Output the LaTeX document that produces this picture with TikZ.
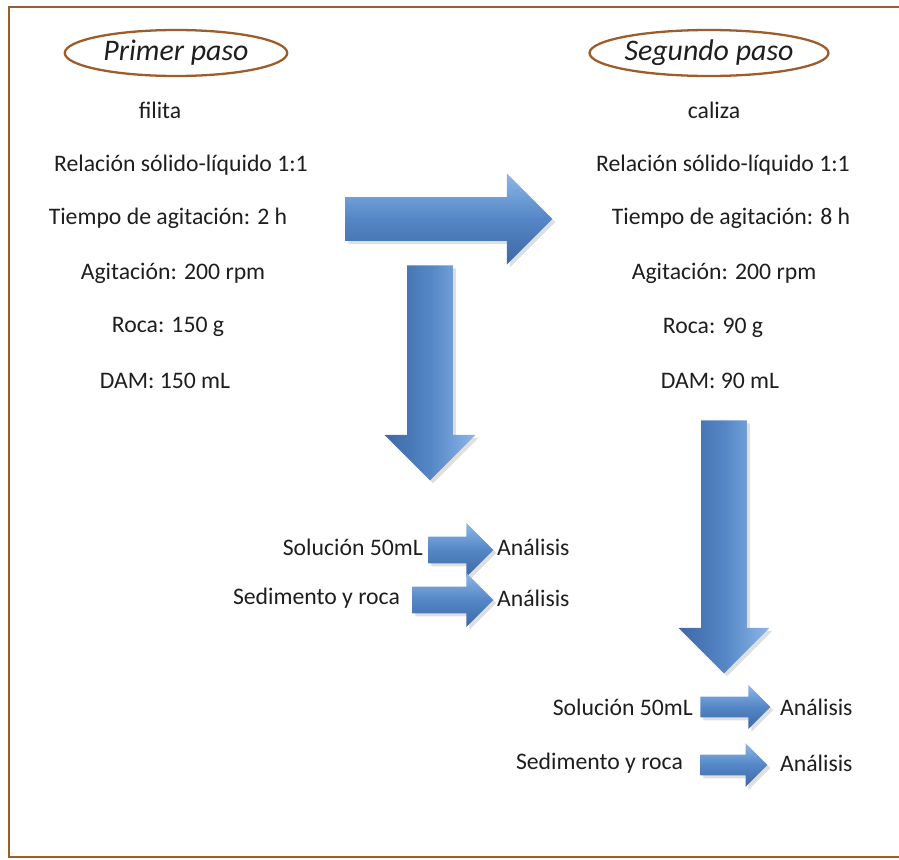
\documentclass[tikz,border=0pt]{standalone}
\usepackage{fontspec}
\setmainfont{Carlito}
\usetikzlibrary{shapes,arrows,positioning,shadows}

\definecolor{marron}{RGB}{158,92,42}
\definecolor{azul}{RGB}{84,134,198}
\definecolor{azulclaro}{RGB}{140,183,232}
\definecolor{azuloscuro}{RGB}{62,104,165}
\definecolor{texto}{RGB}{30,30,30}

\begin{document}
\begin{tikzpicture}[x=0.02cm,y=-0.02cm,
	txt/.style={text=texto,font=\fontsize{13.5}{15}\selectfont,inner sep=1pt},
	paso/.style={ellipse,draw=marron,line width=1.3pt,inner sep=0pt,minimum width=4.45cm,
		minimum height=0.92cm,text=texto,font=\fontsize{17}{20}\selectfont\itshape},
	flecha/.style={single arrow,single arrow tip angle=90,inner xsep=0pt,draw=none,
		top color=azulclaro,bottom color=azuloscuro,middle color=azul,
		drop shadow={opacity=0.25,shadow xshift=0.06cm,shadow yshift=-0.06cm}},
	abajo/.style={anchor=tail,rotate=-90,left color=azuloscuro,right color=azulclaro,middle color=azul},
	grande/.style={flecha,inner ysep=0.45cm,single arrow head extend=0.45cm},
	chica/.style={flecha,inner ysep=0.26cm,single arrow head extend=0.27cm},
	mini/.style={flecha,inner ysep=0.2cm,single arrow head extend=0.23cm}]
	\useasboundingbox (0,0) rectangle (899,859);
	% marco
	\draw[marron,line width=1.6pt] (899,7) -- (9,7) -- (9,857) -- (899,857);

	% Primer paso
	\node[paso] (paso1) at (176,53) {Primer paso};
	\node[txt] (filita) at (160,110) {filita};
	\node[txt] (rel1) at (181,165) {Relación sólido-líquido 1:1};
	\node[txt] (tiem1) at (168,218) {Tiempo de agitación: 2 h};
	\node[txt] (agit1) at (173,273) {Agitación: 200 rpm};
	\node[txt] (roca1) at (168,327) {Roca: 150 g};
	\node[txt] (dam1) at (165,381) {DAM: 150 mL};

	% Segundo paso
	\node[paso] (paso2) at (709,53) {Segundo paso};
	\node[txt] (caliza) at (714,110) {caliza};
	\node[txt] (rel2) at (723,165) {Relación sólido-líquido 1:1};
	\node[txt] (tiem2) at (731,218) {Tiempo de agitación: 8 h};
	\node[txt] (agit2) at (724,273) {Agitación: 200 rpm};
	\node[txt] (roca2) at (713,328) {Roca: 90 g};
	\node[txt] (dam2) at (720,381) {DAM: 90 mL};

	% flechas grandes
	\node[grande,inner ysep=0.43cm,single arrow head extend=0.47cm,minimum height=4.14cm,anchor=tail] (fpaso) at (345,219) {};
	\node[grande,abajo,minimum height=4.3cm] (fbaja1) at (430,265) {};
	\node[grande,abajo,minimum height=5.06cm] (fbaja2) at (724,420) {};

	% resultados primer paso
	\node[chica,minimum height=1.3cm,anchor=tail] (fsol1) at (428,550) {};
	\node[chica,minimum height=1.62cm,anchor=tail] (fsed1) at (412,600) {};
	\node[txt,anchor=east] (sol1) at (425,547) {Solución 50mL};
	\node[txt,anchor=east] (sed1) at (402,598) {Sedimento y roca};
	\node[txt,anchor=west] (an1) at (495,547) {Análisis};
	\node[txt,anchor=west] (an2) at (495,598) {Análisis};

	% resultados segundo paso
	\node[mini,minimum height=1.4cm,anchor=tail] (fsol2) at (700,707) {};
	\node[mini,minimum height=1.34cm,anchor=tail] (fsed2) at (700,765) {};
	\node[txt,anchor=east] (sol2) at (695,707) {Solución 50mL};
	\node[txt,anchor=east] (sed2) at (685,763) {Sedimento y roca};
	\node[txt,anchor=west] (an3) at (778,707) {Análisis};
	\node[txt,anchor=west] (an4) at (778,763) {Análisis};
\end{tikzpicture}
\end{document}
